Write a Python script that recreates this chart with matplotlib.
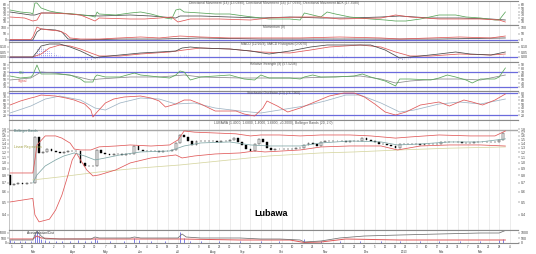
import matplotlib.pyplot as plt
import numpy as np

plt.rcParams['font.family'] = ['Liberation Sans', 'DejaVu Sans']

W, H = 536, 254
LEFT, RIGHT = 9, 518
XMIN, XMAX = -0.5, 245.1

# ---------------- data (trading-day index, values) ----------------
# price candles, one every 2 trading days
first_open = 0.80
closes = np.array([
    0.68, 0.69, 0.70, 0.69, 0.70, 0.70, 1.57, 1.19, 1.21, 1.27,
    1.22, 1.20, 1.19, 1.21, 1.22, 1.23, 1.22, 1.00, 0.95, 0.94,
    0.94, 1.25, 1.19, 1.17, 1.15, 1.16, 1.16, 1.15, 1.16, 1.17,
    1.34, 1.24, 1.23, 1.22, 1.23, 1.22, 1.21, 1.22, 1.23, 1.25,
    1.41, 1.62, 1.58, 1.47, 1.37, 1.46, 1.46, 1.47, 1.46, 1.46,
    1.45, 1.46, 1.47, 1.48, 1.55, 1.44, 1.36, 1.28, 1.23, 1.38,
    1.51, 1.44, 1.30, 1.26, 1.27, 1.27, 1.28, 1.27, 1.28, 1.29,
    1.30, 1.36, 1.41, 1.40, 1.34, 1.44, 1.46, 1.46, 1.47, 1.46,
    1.46, 1.45, 1.46, 1.46, 1.47, 1.54, 1.50, 1.46, 1.43, 1.40,
    1.38, 1.36, 1.33, 1.29, 1.40, 1.40, 1.39, 1.39, 1.38, 1.37,
    1.38, 1.38, 1.39, 1.40, 1.43, 1.44, 1.44, 1.43, 1.43, 1.42,
    1.41, 1.42, 1.43, 1.43, 1.44, 1.44, 1.45, 1.45, 1.48, 1.68])

bb_up_d = [0, 11, 12, 13, 17, 22, 25, 29, 31, 34, 39, 43, 51, 58, 68, 77, 81, 84, 89,
           99, 109, 116, 121, 130, 140, 150, 164, 174, 186, 193, 207, 222, 234, 239]
bb_up = [0.834, 0.834, 1.05, 1.365, 1.60, 1.60, 1.54, 1.41, 1.27, 1.25, 1.25, 1.32, 1.34,
         1.365, 1.34, 1.365, 1.49, 1.745, 1.71, 1.685, 1.66, 1.60, 1.627, 1.627, 1.60,
         1.627, 1.627, 1.60, 1.54, 1.571, 1.627, 1.60, 1.60, 1.745]
bb_lo_d = [0, 11, 12, 14, 19, 22, 25, 28, 30, 32, 34, 37, 40, 43, 51, 58, 68, 80, 83,
           89, 99, 111, 118, 123, 140, 150, 164, 179, 187, 198, 212, 227, 239]
bb_lo = [0.501, 0.533, 0.399, 0.353, 0.37, 0.435, 0.564, 0.806, 1.049, 1.186, 1.049,
         0.88, 0.792, 0.806, 0.88, 0.995, 1.086, 1.145, 1.086, 1.125, 1.165, 1.186,
         1.228, 1.207, 1.25, 1.318, 1.341, 1.341, 1.25, 1.341, 1.365, 1.365, 1.34]
ma_d = [11, 13, 17, 22, 26, 31, 36, 41, 46, 53, 63, 77, 84, 92, 106, 116, 125, 140,
        150, 164, 179, 187, 198, 212, 227, 239]
ma = [0.70, 0.806, 0.944, 1.049, 1.125, 1.186, 1.125, 1.049, 1.086, 1.145, 1.207,
      1.228, 1.341, 1.414, 1.439, 1.365, 1.341, 1.341, 1.414, 1.464, 1.439, 1.365,
      1.389, 1.439, 1.439, 1.52]
slow_d = [11, 24, 43, 63, 82, 106, 125, 150, 166, 188, 212, 239]
slow = [0.738, 0.778, 0.849, 0.911, 0.96, 1.049, 1.125, 1.186, 1.207, 1.25, 1.29, 1.318]
price_ticks = [0.4, 0.5, 0.6, 0.7, 0.8, 0.9, 1.0, 1.1, 1.2, 1.3, 1.4, 1.5, 1.6, 1.7, 1.8]

# directional movement
pdi_d = [0, 5, 10, 11, 12, 13, 15, 19, 24, 31, 39, 41, 42, 43, 51, 58, 63, 68, 75, 78,
         80, 82, 84, 92, 99, 106, 113, 121, 125, 135, 140, 142, 146, 150, 153, 157, 164,
         174, 181, 186, 191, 198, 207, 215, 220, 227, 234, 236, 239]
pdi = [45, 39, 36, 33, 66, 66, 51, 42, 36, 33, 27, 24, 39, 33, 30, 36, 39, 33, 21, 18,
       45, 48, 39, 36, 33, 33, 27, 21, 18, 18, 15, 36, 30, 24, 39, 33, 24,
       18, 15, 12, 12, 18, 30, 30, 24, 21, 15, 15, 39]
adx_d = [0, 10, 12, 15, 24, 34, 43, 58, 68, 80, 82, 92, 106, 121, 135, 150, 164, 179,
         188, 203, 217, 232, 239]
adx = [39, 30, 30, 36, 36, 30, 27, 30, 27, 21, 27, 27, 24, 21, 24, 21, 21, 24,
       27, 21, 21, 18, 15]
mdi_d = [0, 7, 11, 13, 15, 19, 29, 34, 41, 43, 58, 65, 72, 78, 81, 87, 101, 116, 125,
         140, 150, 159, 179, 186, 193, 207, 217, 227, 236, 239]
mdi = [24, 21, 12, 15, 36, 36, 33, 30, 12, 21, 18, 18, 21, 24, 9, 18, 18, 15, 21,
       24, 24, 18, 21, 30, 24, 18, 18, 18, 15, 9]

# second oscillator
osc_a_d = [0, 10, 11, 13, 15, 19, 24, 27, 29, 34, 43, 53, 63, 72, 82, 92, 106, 121,
           140, 159, 179, 188, 203, 217, 232, 239]
osc_a = [4, 4, 25, 108, 92, 83, 75, 50, 17, 8, 8, 17, 25, 17, 33, 25, 17, 17,
         17, 25, 17, 8, 17, 25, 17, 33]
osc_b_d = [0, 11, 13, 15, 22, 25, 28, 34, 53, 72, 92, 121, 150, 179, 207, 239]
osc_b = [0, 0, 67, 92, 83, 67, 8, 0, 8, 8, 17, 8, 8, 8, 8, 17]

# MACD
macd_d = [0, 11, 13, 15, 19, 24, 29, 34, 39, 41, 43, 53, 63, 72, 80, 83, 87, 92, 106,
          116, 125, 135, 145, 153, 162, 174, 181, 188, 198, 207, 215, 222, 232, 239]
macd = [0, 0, 0.05, 0.11, 0.13, 0.13, 0.10, 0.06, 0.01, -0.01, 0, 0.02, 0.04, 0.05,
        0.06, 0.09, 0.10, 0.09, 0.08, 0.06, 0.03, 0.06, 0.10, 0.12, 0.12, 0.12, 0.07,
        -0.01, 0.01, 0.03, 0.05, 0.03, 0.02, 0.05]
sig_d = [0, 11, 15, 19, 24, 29, 34, 39, 43, 53, 63, 77, 84, 92, 106, 121, 135, 145,
         154, 169, 179, 186, 193, 203, 217, 232, 239]
sig = [0, 0, 0.03, 0.09, 0.12, 0.11, 0.08, 0.04, 0.01, 0.01, 0.03, 0.05, 0.07, 0.09,
       0.08, 0.05, 0.04, 0.07, 0.10, 0.12, 0.10, 0.05, 0.01, 0.01, 0.03, 0.02, 0.03]
hist_d = [12, 13, 14, 15, 16, 17, 18, 19, 20, 21, 22, 23, 24, 25, 26, 33, 34, 36, 37,
          39, 40, 42, 43, 82, 84, 85, 86, 154, 156, 158, 160, 162, 186, 187, 189, 190,
          192, 193, 236, 238]
hist = [0.04, 0.08, 0.10, 0.10, 0.09, 0.08, 0.07, 0.06, 0.05, 0.04, 0.03, 0.02, 0.02,
        0.01, 0.01, -0.01, -0.02, -0.03, -0.03, -0.03, -0.02, -0.02, -0.01, 0.02, 0.02,
        0.02, 0.01, 0.01, 0.02, 0.02, 0.02, 0.01, -0.02, -0.03, -0.03, -0.02, -0.02,
        -0.01, 0.01, 0.02]

# relative strength
rsi_d = [0, 5, 10, 11, 13, 14, 15, 22, 29, 34, 36, 40, 41, 42, 46, 53, 60, 63, 72, 77,
         80, 82, 84, 87, 92, 99, 106, 113, 118, 121, 125, 135, 140, 142, 146, 150, 157,
         166, 170, 174, 181, 186, 188, 193, 203, 207, 211, 215, 220, 223, 227, 234, 236,
         239]
rsi = [59.3, 54, 56.7, 62, 88.7, 75.3, 64.7, 64.7, 62, 51.3, 43.3, 43.3, 56.7, 62,
       56.7, 56.7, 67.3, 62, 56.7, 54, 62, 72.7, 70, 48.7, 56.7, 59.3, 62, 51.3, 48.7,
       62, 54, 54, 51.3, 56.7, 62, 56.7, 56.7, 59.3, 64.7, 56.7, 46, 32.7, 51.3, 51.3,
       48.7, 54, 62, 56.7, 48.7, 40.7, 51.3, 51.3, 56.7, 80.7]
rsi_sig_d = [0, 10, 15, 22, 31, 39, 43, 58, 72, 84, 92, 111, 123, 140, 154, 169, 179,
             186, 193, 207, 217, 227, 239]
rsi_sig = [48.7, 54, 70, 67.3, 59.3, 48.7, 51.3, 56.7, 56.7, 62, 56.7, 54, 54, 54,
           56.7, 59.3, 51.3, 40.7, 46, 51.3, 51.3, 48.7, 62]

# stochastic
stk_d = [0, 5, 10, 12, 15, 22, 27, 31, 36, 39, 40, 42, 46, 50, 55, 63, 68, 72, 75, 80,
         84, 87, 92, 99, 109, 113, 118, 122, 124, 129, 134, 140, 147, 154, 161, 166,
         171, 176, 181, 186, 191, 198, 207, 212, 219, 223, 228, 234, 239]
stk = [47.3, 58.2, 66.4, 69.1, 74.5, 71.8, 66.4, 60.9, 50, 33.6, 14.5, 28.2, 52.7,
       63.6, 69.1, 71.8, 66.4, 58.2, 41.8, 50, 60.9, 60.9, 50, 30.9, 30.9, 22.7, 17.3,
       39.1, 58.2, 44.5, 28.2, 39.1, 55.5, 71.8, 80, 80, 69.1, 50, 28.2, 20, 28.2,
       47.3, 55.5, 44.5, 60.9, 55.5, 47.3, 60.9, 77.3]
std_d = [0, 10, 17, 24, 34, 41, 46, 53, 63, 72, 80, 89, 99, 111, 121, 130, 142, 152,
         162, 169, 179, 188, 195, 207, 217, 227, 239]
std = [25.5, 44.5, 63.6, 71.8, 60.9, 39.1, 33.6, 52.7, 66.4, 63.6, 50, 52.7, 39.1,
       30.9, 25.5, 33.6, 44.5, 58.2, 74.5, 74.5, 52.7, 28.2, 33.6, 50, 55.5, 50, 63.6]

# accumulation / volume
acc_d = [0, 11, 12, 13, 15, 17, 24, 39, 41, 43, 58, 60, 63, 81, 83, 85, 92, 111, 121,
         130, 140, 142, 150, 159, 171, 188, 207, 227, 236, 239]
acc = [300, 300, 800, 1200, 700, 400, 400, 400, 600, 500, 500, 600, 500, 500, 900, 600,
       500, 500, 400, 400, 300, 100, 200, 500, 700, 800, 900, 1000, 1000, 1250]
vma_d = [0, 11, 13, 15, 24, 43, 63, 82, 111, 135, 142, 150, 162, 188, 212, 239]
vma = [400, 400, 700, 500, 400, 400, 400, 400, 300, 300, 50, 100, 400, 300, 300, 300]
vol_d = [0, 2, 5, 7, 10, 12, 13, 14, 15, 17, 19, 22, 25, 29, 33, 36, 39, 41, 42, 48,
         55, 60, 62, 68, 75, 82, 84, 87, 92, 101, 111, 121, 130, 142, 150, 159, 169,
         179, 188, 198, 207, 217, 227, 236, 238]
vol = [300, 200, 200, 200, 200, 900, 1200, 800, 400, 300, 200, 200, 200, 200, 300, 200,
       200, 500, 300, 200, 200, 500, 300, 200, 200, 1100, 500, 200, 200, 200, 200, 200,
       200, 400, 200, 200, 200, 200, 200, 200, 200, 200, 200, 300, 400]

week_labels = ["5", "12", "19", "26", "2", "9", "16", "23", "30", "7", "14", "21", "28",
               "4", "11", "18", "25", "2", "9", "16", "23", "30", "6", "13", "20", "27",
               "3", "10", "17", "24", "1", "8", "15", "22", "29", "5", "12", "19", "26",
               "3", "10", "17", "24", "31", "7", "14", "21", "28", "4"]
month_d = [11, 30, 46, 63, 81, 98, 112, 131, 152, 172, 190, 208, 227]
months = ["Mar", "Apr", "May", "Jun", "Jul", "Aug", "Sep", "Oct", "Nov", "Dec", "2013",
          "Feb", "Mar"]

GREEN, DARK, RED = '#5aa55a', '#4a4a4a', '#e05858'
BLUE = '#6b6bdc'
grid_days = np.arange(1, 245, 5)

fig = plt.figure(figsize=(W / 100, H / 100), dpi=100)


def panel(top, bottom, ylim, yticks, title):
    ax = fig.add_axes([LEFT / W, 1 - bottom / H, (RIGHT - LEFT) / W, (bottom - top) / H])
    ax.set_xlim(XMIN, XMAX)
    ax.set_ylim(*ylim)
    ax.set_xticks(grid_days)
    ax.xaxis.grid(True, color='#dedede', lw=0.4)
    ax.set_axisbelow(True)
    ax.tick_params(axis='x', length=0, labelbottom=False)
    ax.set_yticks(yticks)
    ax.tick_params(axis='y', labelsize=2.5, length=1.2, width=0.3, pad=0.6,
                   colors='#444444', labelleft=True, labelright=True, left=True, right=True)
    for s in ('top', 'bottom'):
        ax.spines[s].set_color('#8a8a8a')
        ax.spines[s].set_linewidth(0.8)
    ax.spines['left'].set_color('#9a9a9a')
    ax.spines['left'].set_linewidth(0.4)
    ax.spines['right'].set_visible(False)
    ax.text(0.52, 0.99, title, transform=ax.transAxes, ha='center', va='top',
            fontsize=2.4, color='#555555')
    return ax


# directional movement
ax1 = panel(1, 25, (0, 72), [10, 20, 30, 40, 50, 60],
            "Directional Movement (14) (13.0990), Directional Movement (14) (17.0990), "
            "Directional Movement ADX (17.3580)")
ax1.plot(adx_d, adx, color=DARK, lw=0.55)
ax1.plot(pdi_d, pdi, color=GREEN, lw=0.55)
ax1.plot(mdi_d, mdi, color=RED, lw=0.55)

# oscillator
ax2 = panel(25, 42, (-16.7, 125), [0, 50, 100], "Momentum (9)")
ax2.axhline(0, color=BLUE, lw=0.9)
ax2.plot(osc_b_d, osc_b, color=DARK, lw=0.55)
ax2.plot(osc_a_d, osc_a, color=RED, lw=0.55)

# MACD
ax3 = panel(42, 62, (-0.05, 0.15), [0.0, 0.05, 0.10],
            "MACD (12/26/9), MACD Histogram (0.0070)")
ax3.axhline(0, color=BLUE, lw=0.9)
ax3.vlines(hist_d, 0, hist, color='#5a5ae0', lw=0.5, linestyles=':')
ax3.plot(sig_d, sig, color=RED, lw=0.55)
ax3.plot(macd_d, macd, color=DARK, lw=0.55)

# relative strength
ax4 = panel(62, 91, (19.3, 96.7), [30, 40, 50, 60, 70, 80, 90],
            "Relative Strength (9) (57.5238)")
ax4.axhline(70, color=BLUE, lw=0.9)
ax4.axhline(30, color=BLUE, lw=0.9)
ax4.plot(rsi_sig_d, rsi_sig, color='#8a8a8a', lw=0.55)
ax4.plot(rsi_d, rsi, color=GREEN, lw=0.55)
ax4.text(4, 64, "RSI", fontsize=2.4, color=GREEN)
ax4.text(4, 44, "Signal", fontsize=2.4, color=RED)

# stochastic
ax5 = panel(91, 120, (6.4, 85.5), [20, 30, 40, 50, 60, 70, 80],
            "Stochastic Oscillator (10) (76.7960)")
ax5.axhline(80, color=BLUE, lw=0.9)
ax5.axhline(20, color=BLUE, lw=0.9)
ax5.plot(std_d, std, color='#9fb4c4', lw=0.55)
ax5.plot(stk_d, stk, color=RED, lw=0.55)

# price
ax6 = panel(120, 230, (0.306, 2.117), [1],
            "LUBAWA (1.4000, 1.6800, 1.4000, 1.6800, +0.2000), Bollinger Bands (20, 2.0)")
ax6.set_yscale('log')
ax6.set_ylim(0.306, 2.117)
ax6.yaxis.set_minor_locator(plt.NullLocator())
ax6.set_yticks(price_ticks, [f"{p:.1f}" for p in price_ticks])
ax6.axhline(1.776, color='#a8a8a8', lw=1.0)
ax6.plot(slow_d, slow, color='#d6d6a0', lw=0.55)
ax6.plot(bb_up_d, bb_up, color=RED, lw=0.55)
ax6.plot(bb_lo_d, bb_lo, color=RED, lw=0.55)
ax6.plot(ma_d, ma, color='#7fa6a6', lw=0.55)
cd = np.arange(len(closes)) * 2
opens = np.r_[first_open, closes[:-1]]
lo = np.minimum(opens, closes)
hi = np.maximum(opens, closes)
up = closes >= opens
ax6.bar(cd[up], (hi - lo)[up], bottom=lo[up], width=0.9, color='white',
        edgecolor='black', lw=0.3)
ax6.bar(cd[~up], (hi - lo)[~up], bottom=lo[~up], width=0.9, color='black',
        edgecolor='black', lw=0.3)
ax6.text(2, 1.72, "Bollinger Bands", fontsize=2.4, color='#4f7f7f')
ax6.text(2, 1.29, "Linear Regression", fontsize=2.4, color='#a0a040')
fig.text(271 / W, 1 - 213 / H, "Lubawa", fontsize=6.5, fontweight='bold',
         ha='center', va='center', color='black')

# accumulation / volume
ax7 = panel(230, 243, (0, 1300), [0, 500, 1000], "")
ax7.vlines(vol_d, 0, vol, color='#6a6ae0', lw=0.6)
ax7.plot(vma_d, vma, color=RED, lw=0.7)
ax7.plot(acc_d, acc, color='#707070', lw=0.55)
ax7.text(8, 950, "Accumulation/Dist", fontsize=2.4, color='#333333')
ax7.set_xticks(grid_days, week_labels)
ax7.tick_params(axis='x', labelbottom=True, labelsize=2.1, length=1, width=0.3,
                pad=0.3, colors='#444444')
for d, m in zip(month_d, months):
    ax7.text(d, -0.52, m, transform=ax7.get_xaxis_transform(), ha='center',
             va='top', fontsize=2.2, color='#333333')

fig.savefig('out.png', dpi=100)
